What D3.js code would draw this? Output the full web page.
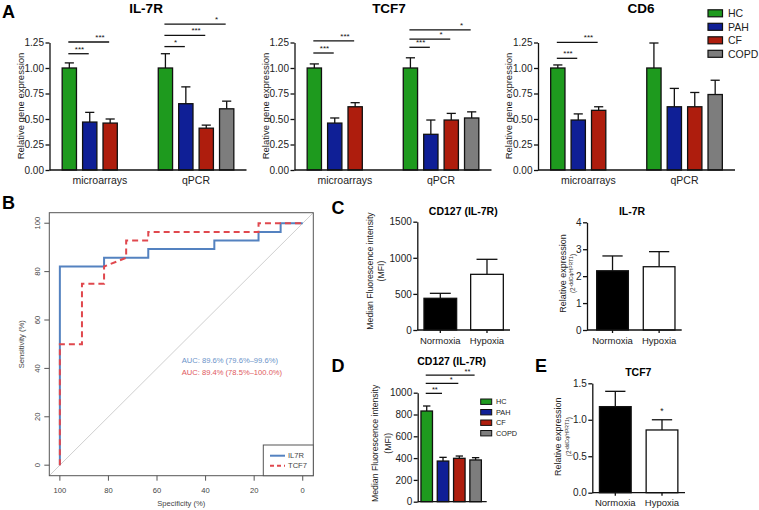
<!DOCTYPE html>
<html><head><meta charset="utf-8">
<script src="https://cdn.jsdelivr.net/npm/d3@7"></script>
<style>body{margin:0;background:#fff}svg{display:block;background:#fff}</style>
</head><body><svg id="c" width="759" height="510"></svg>
<script>
// ---------------- DATA ----------------
const series = ["HC","PAH","CF","COPD"];
const seriesColors = ["#1e9a1e","#0f1f96","#ae1d0d","#7d7d7d"];
const groupsA = ["microarrays","qPCR"];
const yTicksA = [0,0.25,0.5,0.75,1.0,1.25];

const il7rMicroMean = [1.00,0.47,0.46,null];
const il7rMicroErr  = [0.05,0.095,0.04,null];
const il7rQpcrMean  = [1.00,0.65,0.41,0.60];
const il7rQpcrErr   = [0.14,0.165,0.03,0.075];
const il7rSig = [["microarrays","PAH",1.14,"***"],["microarrays","CF",1.255,"***"],
                 ["qPCR","PAH",1.21,"*"],["qPCR","CF",1.32,"***"],["qPCR","COPD",1.43,"*"]];

const tcf7MicroMean = [1.00,0.46,0.62,null];
const tcf7MicroErr  = [0.04,0.05,0.04,null];
const tcf7QpcrMean  = [1.00,0.35,0.49,0.51];
const tcf7QpcrErr   = [0.10,0.14,0.065,0.06];
const tcf7Sig = [["microarrays","PAH",1.147,"***"],["microarrays","CF",1.265,"***"],
                 ["qPCR","PAH",1.203,"***"],["qPCR","CF",1.284,"*"],["qPCR","COPD",1.373,"*"]];

const cd6MicroMean = [1.00,0.49,0.585,null];
const cd6MicroErr  = [0.03,0.06,0.035,null];
const cd6QpcrMean  = [1.00,0.62,0.62,0.74];
const cd6QpcrErr   = [0.245,0.18,0.14,0.14];
const cd6Sig = [["microarrays","PAH",1.095,"***"],["microarrays","CF",1.252,"***"]];

// ROC
const il7rSpec = [100,100,81.8,81.8,63.6,63.6,36.4,36.4,18.2,18.2,9.1,9.1,0];
const il7rSens = [0,82.1,82.1,85.7,85.7,89.3,89.3,92.9,92.9,96.4,96.4,100,100];
const tcf7Spec = [100,100,90.9,90.9,81.8,81.8,72.7,72.7,63.6,63.6,18.2,18.2,0];
const tcf7Sens = [0,50,50,75,75,82.1,85.7,92.9,92.9,96.4,96.4,100,100];
const rocTicks = [0,20,40,60,80,100];
const aucTexts = ["AUC: 89.6% (79.6%\u201399.6%)","AUC: 89.4% (78.5%\u2013100.0%)"];
const rocNames = ["IL7R","TCF7"];

// C / E hypoxia
const conditions = ["Normoxia","Hypoxia"];
const condFills = ["#000000","#ffffff"];
const cd127MfiMean = [439,771];
const cd127MfiErr  = [69,208];
const cd127MfiTicks = [0,500,1000,1500];
const il7rRelMean = [2.20,2.35];
const il7rRelErr  = [0.55,0.56];
const il7rRelTicks = [0,1,2,3,4];
const tcf7RelMean = [1.18,0.86];
const tcf7RelErr  = [0.21,0.14];
const tcf7RelTicks = [0,0.5,1.0,1.5];

// D
const cd127GroupMean = [832,373,398,383];
const cd127GroupErr  = [46,34,21,21];
const cd127GroupTicks = [0,200,400,600,800,1000];
const cd127GroupSig = [["PAH",994,"**"],["CF",1086,"*"],["COPD",1162,"**"]];

// ---------------- DRAW ----------------
const FONT = '"Liberation Sans", Arial, Helvetica, sans-serif';
const svg = d3.select("#c");
const INK = "#111";

function txt(g, x, y, s, o = {}) {
  const t = g.append("text").attr("x", x).attr("y", y).text(s)
    .attr("font-family", FONT).attr("font-size", o.size || 10)
    .attr("fill", o.fill || INK).attr("text-anchor", o.anchor || "middle");
  if (o.bold) t.attr("font-weight", "bold");
  if (o.rot) t.attr("transform", `rotate(-90,${x},${y})`);
  return t;
}
function yAxis(g, x, scale, ticks, fmt, fs) {
  const a = g.append("g").attr("transform", `translate(${x},0)`)
    .call(d3.axisLeft(scale).tickValues(ticks).tickFormat(fmt).tickSize(4).tickSizeOuter(0).tickPadding(1.5));
  a.select(".domain").attr("stroke", INK).attr("stroke-width", 1.3);
  a.selectAll(".tick line").attr("stroke", INK).attr("stroke-width", 1.3);
  a.selectAll(".tick text").attr("font-size", fs).attr("font-family", FONT).attr("fill", "#222");
  return a;
}
function hline(g, x1, x2, y, w = 1.3, c = INK) {
  g.append("line").attr("x1", x1).attr("x2", x2).attr("y1", y).attr("y2", y).attr("stroke", c).attr("stroke-width", w);
}
function vline(g, x, y1, y2, w = 1.3, c = INK) {
  g.append("line").attr("x1", x).attr("x2", x).attr("y1", y1).attr("y2", y2).attr("stroke", c).attr("stroke-width", w);
}
function bar(g, x, w, y, v, e, fill) {
  const cx = x + w / 2;
  vline(g, cx, y(v), y(v + e), 1.3);
  hline(g, cx - w * 0.32, cx + w * 0.32, y(v + e), 1.3);
  g.append("rect").attr("x", x).attr("y", y(v)).attr("width", w).attr("height", y(0) - y(v))
    .attr("fill", fill).attr("stroke", INK).attr("stroke-width", 1.3);
}

// Panel labels
[["A",2,17.5],["B",2,208.5],["C",331.5,214],["D",331.5,371.5],["E",535,371.5]].forEach(d =>
  txt(svg, d[1], d[2], d[0], {size: 18, bold: true, anchor: "start", fill: "#000"}));

// ---- Panel A ----
const aGenes = [
  {name: "IL-7R", mean: {microarrays: il7rMicroMean, qPCR: il7rQpcrMean}, err: {microarrays: il7rMicroErr, qPCR: il7rQpcrErr}, sig: il7rSig},
  {name: "TCF7", mean: {microarrays: tcf7MicroMean, qPCR: tcf7QpcrMean}, err: {microarrays: tcf7MicroErr, qPCR: tcf7QpcrErr}, sig: tcf7Sig},
  {name: "CD6", mean: {microarrays: cd6MicroMean, qPCR: cd6QpcrMean}, err: {microarrays: cd6MicroErr, qPCR: cd6QpcrErr}, sig: cd6Sig}
];
const aLayout = [{ax: 49.5, tx: 146}, {ax: 294.5, tx: 389}, {ax: 538, tx: 641}];
aGenes.forEach((gd, i) => {
  const L = aLayout[i];
  const g = svg.append("g");
  const y = d3.scaleLinear().domain([0, 1.25]).range([170, 42.5]);
  const xG = d3.scaleBand().domain(groupsA).range([L.ax, L.ax + 197]).paddingInner(0.15).paddingOuter(0.1);
  const xS = d3.scaleBand().domain(series).range([0, xG.bandwidth()]).paddingInner(0.3).paddingOuter(0.15);
  const bw = xS.bandwidth();
  const cx = (grp, s) => xG(grp) + xS(s) + bw / 2;
  groupsA.forEach(grp => {
    series.forEach((s, k) => {
      const v = gd.mean[grp][k];
      if (v == null) return;
      bar(g, xG(grp) + xS(s), bw, y, v, gd.err[grp][k], seriesColors[k]);
    });
    txt(g, xG(grp) + xG.bandwidth() / 2, 184, grp, {size: 10.5, fill: "#222"});
  });
  hline(g, L.ax, L.ax + 197, y(0));
  yAxis(g, L.ax, y, yTicksA, d3.format(".2f"), 10);
  txt(g, L.ax - 26, 106, "Relative gene expression", {size: 9.5, rot: true, fill: "#222"});
  txt(g, L.tx, 13, gd.name, {size: 13.5, bold: true, fill: "#000"});
  gd.sig.forEach(([grp, tgt, lvl, lab]) => {
    const k = series.indexOf(tgt);
    const x1 = cx(grp, "HC") - 1, x2 = cx(grp, tgt) - 1;
    hline(g, x1, x2, y(lvl), 1.3);
    const tx = (cx(grp, tgt) + cx(grp, series[k - 1])) / 2;
    txt(g, tx, y(lvl) - 2, lab, {size: 8, fill: "#111"});
  });
});
// Legend A
series.forEach((s, k) => {
  const cy = 13.3 + k * 13.5;
  svg.append("rect").attr("x", 708).attr("y", cy - 3.5).attr("width", 14.5).attr("height", 7)
    .attr("fill", seriesColors[k]).attr("stroke", INK).attr("stroke-width", 1.2);
  txt(svg, 728, cy + 4, s, {size: 10.5, anchor: "start", fill: "#222"});
});

// ---- Panel B (ROC) ----
{
  const g = svg.append("g");
  const bx0 = 49.3, bx1 = 313.3, by0 = 212.7, by1 = 475.7;
  const ext = (a, b) => [a + (b - a) * 0.04, b - (b - a) * 0.04];
  const x = d3.scaleLinear().domain([100, 0]).range(ext(bx0, bx1));
  const y = d3.scaleLinear().domain([0, 100]).range(ext(by1, by0));
  const grey = "#444";
  const sL = x.invert(bx0), sR = x.invert(bx1);
  g.append("clipPath").attr("id", "rocclip").append("rect").attr("x", bx0).attr("y", by0).attr("width", bx1 - bx0).attr("height", by1 - by0);
  g.append("line").attr("x1", x(sL)).attr("y1", y(100 - sL)).attr("x2", x(sR)).attr("y2", y(100 - sR))
    .attr("stroke", "#cfcfcf").attr("stroke-width", 1).attr("clip-path", "url(#rocclip)");
  const line = d3.line().x(d => x(d[0])).y(d => y(d[1]));
  g.append("path").attr("d", line(il7rSpec.map((s, i) => [s, il7rSens[i]])))
    .attr("fill", "none").attr("stroke", "#5482c0").attr("stroke-width", 2);
  g.append("path").attr("d", line(tcf7Spec.map((s, i) => [s, tcf7Sens[i]])))
    .attr("fill", "none").attr("stroke", "#e0484e").attr("stroke-width", 2).attr("stroke-dasharray", "6,4");
  g.append("rect").attr("x", bx0).attr("y", by0).attr("width", bx1 - bx0).attr("height", by1 - by0)
    .attr("fill", "none").attr("stroke", "#555").attr("stroke-width", 1);
  rocTicks.forEach(t => {
    vline(g, x(t), by1, by1 + 5, 1, "#555");
    txt(g, x(t), 492.5, String(t), {size: 7.6, fill: grey});
    hline(g, bx0 - 5, bx0, y(t), 1, "#555");
    txt(g, 40, y(t), String(t), {size: 7.6, fill: grey, rot: true});
  });
  txt(g, (bx0 + bx1) / 2, 506, "Specificity (%)", {size: 7.6, fill: grey});
  txt(g, 24.5, (by0 + by1) / 2, "Sensitivity (%)", {size: 7.6, fill: grey, rot: true});
  txt(g, 181.7, 363, aucTexts[0], {size: 7.6, fill: "#6b93c9", anchor: "start"});
  txt(g, 181.7, 375.4, aucTexts[1], {size: 7.6, fill: "#e0585c", anchor: "start"});
  g.append("rect").attr("x", 263.3).attr("y", 445).attr("width", bx1 - 263.3).attr("height", by1 - 445)
    .attr("fill", "#fff").attr("stroke", "#555").attr("stroke-width", 1);
  hline(g, 270, 285, 455.7, 2, "#5482c0");
  g.append("line").attr("x1", 270).attr("x2", 285).attr("y1", 465.7).attr("y2", 465.7)
    .attr("stroke", "#e0484e").attr("stroke-width", 2).attr("stroke-dasharray", "4,3");
  txt(g, 288, 458.4, rocNames[0], {size: 7.6, fill: grey, anchor: "start"});
  txt(g, 288, 468.4, rocNames[1], {size: 7.6, fill: grey, anchor: "start"});
}

// ---- hypoxia two-bar charts (C left, C right, E) ----
function condChart(o) {
  const g = svg.append("g");
  const y = d3.scaleLinear().domain([0, o.max]).range([o.y0, o.y1]);
  const x = d3.scaleBand().domain(conditions).range([o.ax, o.axEnd]).paddingInner(o.pi).paddingOuter(o.po).align(o.align);
  conditions.forEach((c, k) => {
    bar(g, x(c), x.bandwidth(), y, o.mean[k], o.err[k], condFills[k]);
    vline(g, x(c) + x.bandwidth() / 2, o.y0, o.y0 + 3, 1.3);
    txt(g, x(c) + x.bandwidth() / 2, o.labY, c, {size: 9.5, fill: "#222"});
  });
  hline(g, o.ax, o.axEnd, o.y0);
  yAxis(g, o.ax, y, o.ticks, o.fmt, 10);
  txt(g, o.tx, o.ty, o.title, {size: 10.5, bold: true, fill: "#000"});
  return {g, x, y};
}
function relLabel(x, cy) {
  txt(svg, x, cy, "Relative expression", {size: 9, fill: "#222", rot: true});
  const t = svg.append("text").attr("transform", `translate(${x + 9},${cy}) rotate(-90)`)
    .attr("text-anchor", "middle").attr("font-family", FONT).attr("font-size", 6.3).attr("fill", "#333");
  t.append("tspan").text("(2");
  t.append("tspan").attr("dy", -2).attr("font-size", 5).text("-ddCq/HPRT1");
  t.append("tspan").attr("dy", 2).text(")");
}
function mfiLabel(x, cy, gap) {
  txt(svg, x, cy, "Median Fluorescence intensity", {size: 8.7, fill: "#222", rot: true});
  txt(svg, x + gap, cy, "(MFI)", {size: 8.7, fill: "#222", rot: true});
}

condChart({ax: 417.3, axEnd: 510, y0: 330, y1: 221.7, max: 1500, ticks: cd127MfiTicks, fmt: d3.format("d"),
  mean: cd127MfiMean, err: cd127MfiErr, pi: 0.3, po: 0.143, align: 0.5, labY: 343.5, tx: 463.3, ty: 215, title: "CD127 (IL-7R)"});
mfiLabel(373, 271, 10.7);

condChart({ax: 587, axEnd: 681.7, y0: 330, y1: 222.3, max: 4, ticks: il7rRelTicks, fmt: d3.format("d"),
  mean: il7rRelMean, err: il7rRelErr, pi: 0.32, po: 0.176, align: 0.59, labY: 343.5, tx: 632, ty: 215, title: "IL-7R"});
relLabel(565.5, 273.5);

{
  const r = condChart({ax: 592.3, axEnd: 685, y0: 492.7, y1: 383.3, max: 1.5, ticks: tcf7RelTicks, fmt: d3.format(".1f"),
    mean: tcf7RelMean, err: tcf7RelErr, pi: 0.321, po: 0.153, align: 0.5, labY: 505.5, tx: 638.3, ty: 375.5, title: "TCF7"});
  txt(r.g, r.x("Hypoxia") + r.x.bandwidth() / 2, 414, "*", {size: 8.5, fill: "#111"});
  relLabel(561.5, 436.7);
}

// ---- Panel D ----
{
  const g = svg.append("g");
  const y = d3.scaleLinear().domain([0, 1000]).range([501.7, 392.7]);
  const x = d3.scaleBand().domain(series).range([417.7, 486.7]).paddingInner(0.294).paddingOuter(0.264).align(0.38);
  const bw = x.bandwidth();
  series.forEach((s, k) => bar(g, x(s), bw, y, cd127GroupMean[k], cd127GroupErr[k], seriesColors[k]));
  hline(g, 417.7, 486.7, y(0));
  yAxis(g, 417.7, y, cd127GroupTicks, d3.format("d"), 10);
  txt(g, 451.7, 364.5, "CD127 (IL-7R)", {size: 10.5, bold: true, fill: "#000"});
  const cx = s => x(s) + bw / 2;
  cd127GroupSig.forEach(([tgt, lvl, lab]) => {
    const k = series.indexOf(tgt);
    hline(g, cx("HC") - 1, cx(tgt) - 1, y(lvl), 1.3);
    txt(g, (cx(tgt) + cx(series[k - 1])) / 2, y(lvl) - 1, lab, {size: 7.5, fill: "#111"});
  });
  series.forEach((s, k) => {
    const cy = 401.7 + k * 10.5;
    g.append("rect").attr("x", 480.7).attr("y", cy - 2.7).attr("width", 11).attr("height", 5.4)
      .attr("fill", seriesColors[k]).attr("stroke", INK).attr("stroke-width", 1);
    txt(g, 496, cy + 2.7, s, {size: 7.3, anchor: "start", fill: "#222"});
  });
  mfiLabel(378, 443.3, 13.3);
}
</script>
</body></html>
